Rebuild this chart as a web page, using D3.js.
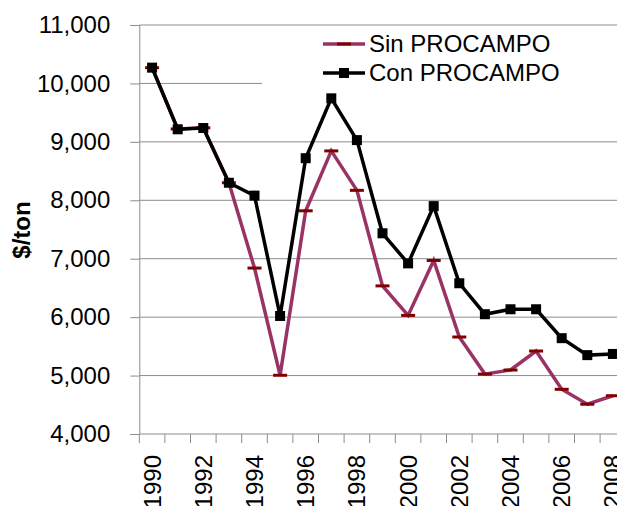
<!DOCTYPE html>
<html>
<head>
<meta charset="utf-8">
<script src="https://cdn.jsdelivr.net/npm/d3@7"></script>
<style>
  body { margin: 0; background: #fff; }
  svg { display: block; font-family: "Liberation Sans", Arial, sans-serif; }
</style>
</head>
<body>
<svg width="617" height="506"></svg>
<script>
const years = [1990, 1991, 1992, 1993, 1994, 1995, 1996, 1997, 1998, 1999,
  2000, 2001, 2002, 2003, 2004, 2005, 2006, 2007, 2008];
const sinProcampo = [10270, 9220, 9240, 8300, 6840, 5005, 7820, 8845, 8170, 6535,
  6030, 6970, 5660, 5025, 5095, 5420, 4765, 4510, 4655];
const conProcampo = [10270, 9215, 9237, 8300, 8080, 6020, 8720, 9745, 9030, 7435,
  6920, 7900, 6580, 6050, 6135, 6135, 5640, 5350, 5370];
const yTicks = [4000, 5000, 6000, 7000, 8000, 9000, 10000, 11000];
const seriesNames = ["Sin PROCAMPO", "Con PROCAMPO"];

const svg = d3.select("svg");
const plotLeft = 139.3, plotTop = 25, plotBottom = 434, step = 25.6;
const gridColor = "#8c8c8c";

const x = d3.scaleBand()
  .domain(years)
  .range([plotLeft, plotLeft + step * years.length])
  .padding(0);

const y = d3.scaleLinear()
  .domain([4000, 11000])
  .range([plotBottom, plotTop]);

const cx = d => x(d) + x.bandwidth() / 2;

// gridlines
svg.append("g")
  .selectAll("line")
  .data(yTicks.filter(t => t > 4000))
  .join("line")
  .attr("x1", plotLeft).attr("x2", x.range()[1])
  .attr("y1", d => y(d)).attr("y2", d => y(d))
  .attr("stroke", gridColor)
  .attr("stroke-width", 1);

// y axis
const yAxis = svg.append("g")
  .attr("transform", `translate(${plotLeft},0)`)
  .call(d3.axisLeft(y).tickValues(yTicks).tickSize(9).tickPadding(20)
    .tickFormat(d3.format(",")));
yAxis.select(".domain").attr("stroke", gridColor);
yAxis.selectAll(".tick line").attr("stroke", gridColor);
yAxis.selectAll("text")
  .attr("font-size", 24)
  .attr("fill", "#000")
  .attr("font-family", "Liberation Sans, Arial, sans-serif");

// x axis
const xAxis = svg.append("g")
  .attr("transform", `translate(0,${plotBottom})`);
xAxis.append("line")
  .attr("x1", plotLeft).attr("x2", x.range()[1])
  .attr("stroke", gridColor);
xAxis.selectAll("line.tk")
  .data(years)
  .join("line")
  .attr("class", "tk")
  .attr("x1", d => x(d)).attr("x2", d => x(d))
  .attr("y1", 0).attr("y2", 9)
  .attr("stroke", gridColor);
xAxis.selectAll("text")
  .data(years.filter(d => d % 2 === 0))
  .join("text")
  .attr("transform", d => `translate(${cx(d)},21) rotate(-90)`)
  .attr("dy", "0.35em")
  .attr("text-anchor", "end")
  .attr("font-size", 24)
  .text(d => d);

// y label
svg.append("text")
  .attr("transform", "translate(22,230) rotate(-90)")
  .attr("dy", "0.35em")
  .attr("text-anchor", "middle")
  .attr("font-size", 24)
  .attr("font-weight", "bold")
  .text("$/ton");

// legend background (covers gridline)
svg.append("rect")
  .attr("x", 262).attr("y", 28)
  .attr("width", 400).attr("height", 63)
  .attr("fill", "#fff");

const line = d3.line()
  .x((d, i) => cx(years[i]))
  .y(d => y(d));

// Sin PROCAMPO
svg.append("path")
  .datum(sinProcampo)
  .attr("d", line)
  .attr("fill", "none")
  .attr("stroke", "#993366")
  .attr("stroke-width", 3.5);
svg.append("g")
  .selectAll("rect")
  .data(sinProcampo)
  .join("rect")
  .attr("x", (d, i) => cx(years[i]) - 7)
  .attr("y", d => y(d) - 1.5)
  .attr("width", 14).attr("height", 3)
  .attr("fill", "#800000");

// Con PROCAMPO
svg.append("path")
  .datum(conProcampo)
  .attr("d", line)
  .attr("fill", "none")
  .attr("stroke", "#000")
  .attr("stroke-width", 3.5);
svg.append("g")
  .selectAll("rect")
  .data(conProcampo)
  .join("rect")
  .attr("x", (d, i) => cx(years[i]) - 5)
  .attr("y", d => y(d) - 5)
  .attr("width", 10).attr("height", 10)
  .attr("fill", "#000");

// legend
const legend = svg.append("g");
const ly = [44, 73];
legend.append("line")
  .attr("x1", 323).attr("x2", 365).attr("y1", ly[0]).attr("y2", ly[0])
  .attr("stroke", "#993366").attr("stroke-width", 3.5);
legend.append("rect")
  .attr("x", 337).attr("y", ly[0] - 1.5).attr("width", 14).attr("height", 3)
  .attr("fill", "#800000");
legend.append("line")
  .attr("x1", 323).attr("x2", 365).attr("y1", ly[1]).attr("y2", ly[1])
  .attr("stroke", "#000").attr("stroke-width", 3.5);
legend.append("rect")
  .attr("x", 339).attr("y", ly[1] - 5).attr("width", 10).attr("height", 10)
  .attr("fill", "#000");
legend.selectAll("text")
  .data(seriesNames)
  .join("text")
  .attr("x", 369)
  .attr("y", (d, i) => ly[i])
  .attr("dy", "0.35em")
  .attr("font-size", 24)
  .text(d => d);
</script>
</body>
</html>
